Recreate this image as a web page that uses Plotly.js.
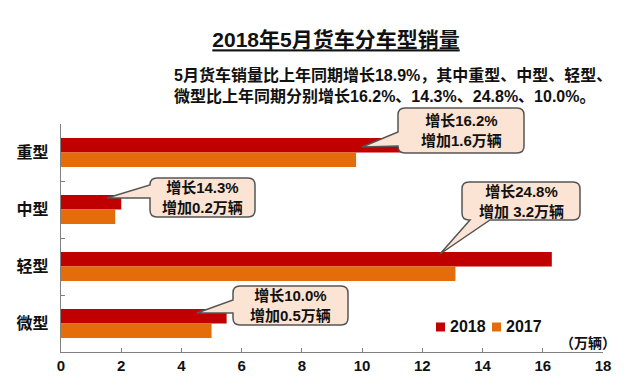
<!DOCTYPE html>
<html><head><meta charset="utf-8">
<script src="https://cdn.plot.ly/plotly-3.0.1.min.js"></script>
<style>html,body{margin:0;padding:0;background:#fff;}#chart{width:640px;height:390px;}</style>
</head><body><div id="chart"></div>
<script>
// ---- data ----
const categories = ['重型', '中型', '轻型', '微型'];
const sales2018 = [11.4, 2.0, 16.3, 5.5];
const sales2017 = [9.8, 1.8, 13.1, 5.0];
const seriesNames = ['2018', '2017'];
const seriesColors = ['#C00000', '#E46C0A'];
const xTicks = [0, 2, 4, 6, 8, 10, 12, 14, 16, 18];
const calloutTexts = [
  '增长16.2%<br>增加1.6万辆',
  '增长14.3%<br>增加0.2万辆',
  '增长24.8%<br>增加 3.2万辆',
  '增长10.0%<br>增加0.5万辆'
];
const titleText = '2018年5月货车分车型销量';
const subtitleText = '5月货车销量比上年同期增长18.9%，其中重型、中型、轻型、<br>微型比上年同期分别增长16.2%、14.3%、24.8%、10.0%。';
const unitText = '（万辆）';

// ---- layout helpers (pixel -> paper) ----
const L = 61, R = 603, T = 124, B = 352;
const fx = x => ((x - L) / (R - L)).toFixed(5);
const fy = y => ((B - y) / (B - T)).toFixed(5);
function P(x, y) { return fx(x) + ',' + fy(y); }
function callout(x0, y0, x1, y1, side, a, b, tx, ty) {
  const r = 7;
  let d = 'M' + P(x0 + r, y0) + ' L' + P(x1 - r, y0) + ' Q' + P(x1, y0) + ' ' + P(x1, y0 + r) +
    ' L' + P(x1, y1 - r) + ' Q' + P(x1, y1) + ' ' + P(x1 - r, y1);
  if (side === 'bottom') d += ' L' + P(b, y1) + ' L' + P(tx, ty) + ' L' + P(a, y1);
  d += ' L' + P(x0 + r, y1) + ' Q' + P(x0, y1) + ' ' + P(x0, y1 - r);
  if (side === 'left') d += ' L' + P(x0, b) + ' L' + P(tx, ty) + ' L' + P(x0, a);
  d += ' L' + P(x0, y0 + r) + ' Q' + P(x0, y0) + ' ' + P(x0 + r, y0) + ' Z';
  return {
    type: 'path', xref: 'paper', yref: 'paper', path: d,
    fillcolor: '#FBE4D3', line: { color: '#555555', width: 1.5 }, layer: 'above'
  };
}
const boxes = [
  [398, 108, 524, 153, 'left', 132, 146, 362, 147],
  [150, 178, 255, 217, 'left', 185, 198, 107, 198],
  [462, 182, 580, 220, 'bottom', 470, 490, 440, 254],
  [233, 286, 348, 325, 'left', 300, 313, 197, 313]
];
const FONT = 'Liberation Sans, Arial, Noto Sans CJK SC, sans-serif';

const shapes = boxes.map(b => callout(...b));
const annotations = boxes.map((b, i) => ({
  xref: 'paper', yref: 'paper', x: +fx((b[0] + b[2]) / 2), y: +fy((b[1] + b[3]) / 2),
  xanchor: 'center', yanchor: 'middle', showarrow: false, align: 'center',
  text: '<b>' + calloutTexts[i] + '</b>',
  font: { family: FONT, size: 15, color: '#111' }
}));
annotations.push({
  xref: 'paper', yref: 'paper', x: +fx(172), y: +fy(86), xanchor: 'left', yanchor: 'middle',
  showarrow: false, align: 'left', text: '<b>' + subtitleText + '</b>',
  font: { family: FONT, size: 16, color: '#111' }
});
annotations.push({
  xref: 'paper', yref: 'paper', x: +fx(618), y: +fy(343), xanchor: 'right', yanchor: 'middle',
  showarrow: false, text: '<b>' + unitText + '</b>',
  font: { family: FONT, size: 14, color: '#111' }
});

// manual compact legend (squares + labels)
const legendPos = [[436, 327], [492, 327]];
legendPos.forEach((p, i) => {
  shapes.push({
    type: 'rect', xref: 'paper', yref: 'paper',
    x0: +fx(p[0]), x1: +fx(p[0] + 9), y0: +fy(p[1] - 4.5), y1: +fy(p[1] + 4.5),
    fillcolor: seriesColors[i], line: { width: 0 }
  });
  annotations.push({
    xref: 'paper', yref: 'paper', x: +fx(p[0] + 12), y: +fy(p[1]), xanchor: 'left', yanchor: 'middle',
    showarrow: false, text: '<b>' + seriesNames[i] + '</b>',
    font: { family: FONT, size: 16, color: '#111' }
  });
});

const data = seriesNames.map((name, i) => ({
  type: 'bar', orientation: 'h', name: name, y: categories, x: [sales2018, sales2017][i],
  marker: { color: seriesColors[i] }, hoverinfo: 'x'
}));

const layout = {
  width: 640, height: 390,
  margin: { l: L, r: 640 - R, t: T, b: 390 - B, pad: 0 },
  paper_bgcolor: '#fff', plot_bgcolor: '#fff',
  barmode: 'group', bargap: 0.49, bargroupgap: 0,
  showlegend: false,
  title: {
    text: '<b>' + titleText + '</b>', x: 336 / 640, xanchor: 'center', y: 1 - 40 / 390, yanchor: 'middle',
    font: { family: FONT, size: 21, color: '#111', lineposition: 'under' }
  },
  xaxis: {
    range: [0, 18], tickvals: xTicks, ticktext: xTicks.map(String),
    ticks: 'inside', ticklen: 4, tickcolor: '#808080', showline: true, linecolor: '#808080', linewidth: 1.2,
    showgrid: false, zeroline: false,
    tickfont: { family: FONT, size: 15, color: '#111', weight: 'bold' }
  },
  yaxis: {
    type: 'category', autorange: 'reversed', tickson: 'boundaries',
    ticks: 'inside', ticklen: 4, tickcolor: '#808080', showline: true, linecolor: '#808080', linewidth: 1.2,
    showgrid: false, zeroline: false, ticklabelstandoff: 8,
    tickfont: { family: FONT, size: 16, color: '#111', weight: 'bold' }
  },
  shapes: shapes, annotations: annotations
};
Plotly.newPlot('chart', data, layout, { displayModeBar: false, staticPlot: true });
</script></body></html>
